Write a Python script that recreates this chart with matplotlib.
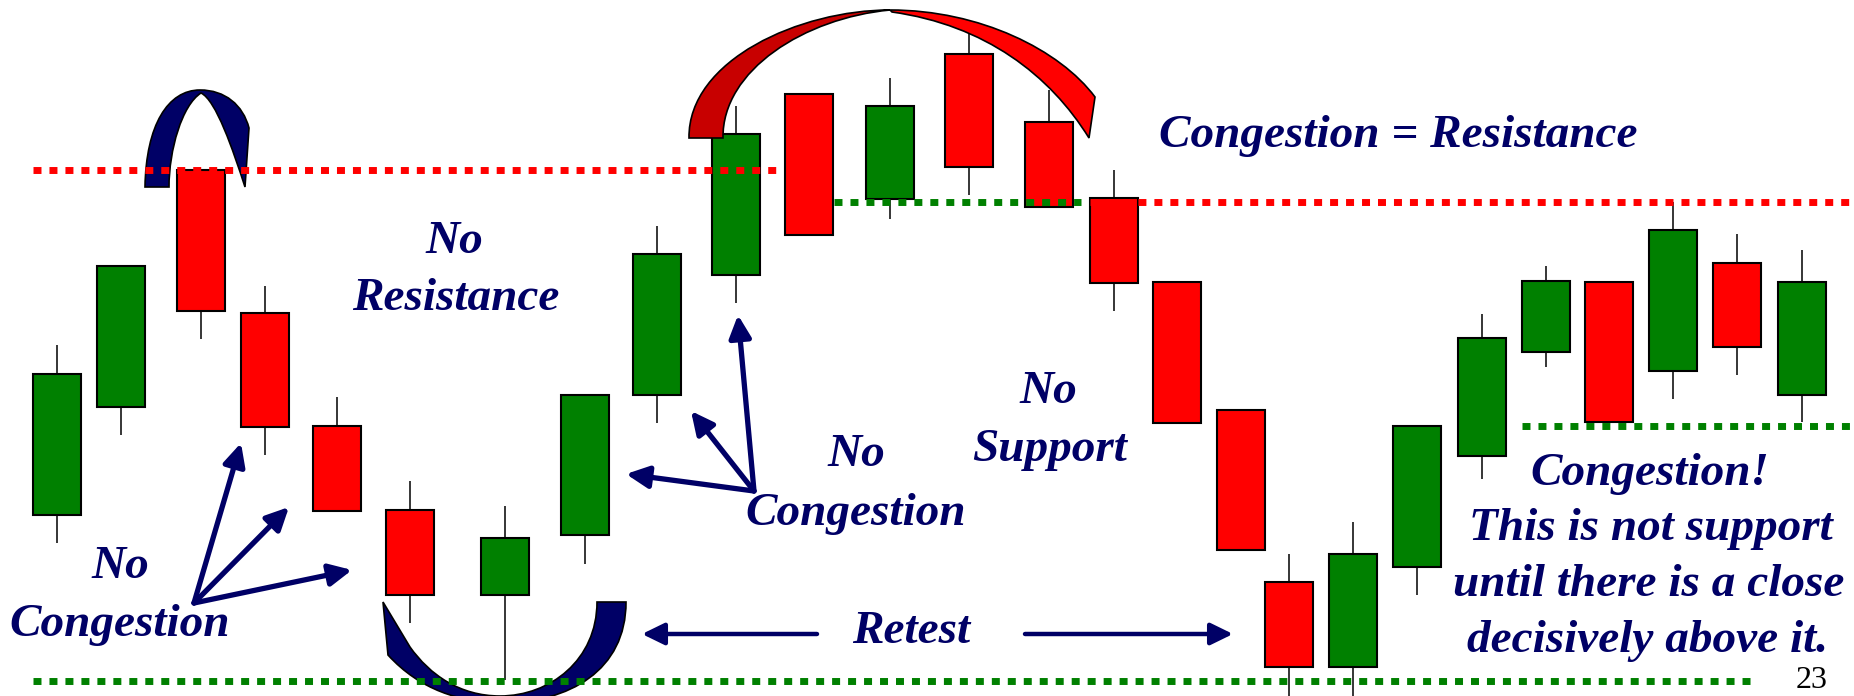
import matplotlib
matplotlib.use("Agg")
import matplotlib.pyplot as plt
from matplotlib.path import Path
from matplotlib.patches import PathPatch

# canvas size in pixels (price axis runs upward from 0 to H)
W, H = 1854, 696

# candle data: x position, open, high, low, close
cx = [57, 121, 201, 265, 337, 410, 505, 585, 657, 736, 809, 890, 969,
      1049, 1114, 1177, 1241, 1289, 1353, 1417, 1482, 1546, 1609, 1673,
      1737, 1802]
opens = [181, 289, 526, 383, 270, 186, 101, 161, 301, 421, 602, 497, 642,
         574, 498, 414, 286, 114, 29, 129, 240, 344, 414, 325, 433, 301]
highs = [351, 430, 526, 410, 299, 215, 190, 301, 470, 590, 602, 618, 675,
         606, 526, 414, 286, 142, 174, 270, 382, 430, 414, 494, 462, 446]
lows = [153, 261, 357, 241, 185, 73, 16, 132, 273, 393, 461, 477, 501,
        489, 385, 273, 146, -9, -9, 101, 217, 329, 274, 297, 321, 274]
closes = [322, 430, 385, 269, 185, 101, 158, 301, 442, 562, 461, 590, 529,
          489, 413, 273, 146, 29, 142, 270, 358, 415, 274, 466, 349, 414]

# support / resistance levels: (price, x start, x end, colour)
levels = [(526, 33, 777, "#ff0000"),
          (494, 834, 1081, "#008000"),
          (494, 1090, 1852, "#ff0000"),
          (270, 1522, 1852, "#008000"),
          (15, 33, 1752, "#008000")]

navy = "#000066"
body_w = 48.5

fig = plt.figure(figsize=(W / 100, H / 100), dpi=100)
ax = fig.add_axes([0, 0, 1, 1])
ax.set_xlim(0, W)
ax.set_ylim(0, H)
ax.axis("off")

# candles
for x, o, hi, lo, c in zip(cx, opens, highs, lows, closes):
    col = "#008000" if c > o else "#ff0000"
    ax.vlines(x, lo, hi, color="black", lw=1.1, zorder=1.5)
    ax.bar(x, abs(c - o), bottom=min(o, c), width=body_w, color=col,
           edgecolor="black", linewidth=1.5, zorder=2)


# arches, drawn as bezier ribbons (pixel y measured from the top)
def ribbon(points, codes, color):
    verts = [(x, H - y) for x, y in points]
    ax.add_patch(PathPatch(Path(verts, codes), facecolor=color,
                           edgecolor="black", lw=1.2, zorder=3))


M, L, C4, CL = Path.MOVETO, Path.LINETO, Path.CURVE4, Path.CLOSEPOLY

ribbon([(145, 187), (146, 125), (168, 90), (200, 90), (225, 90), (243, 105),
        (249, 128), (245, 187), (233, 150), (216, 100), (201, 93),
        (182, 105), (169, 150), (169, 187), (145, 187)],
       [M, C4, C4, C4, C4, C4, C4, L, C4, C4, C4, C4, C4, C4, CL], navy)

ribbon([(689, 138), (688, 60), (800, 10), (890, 10), (805, 18), (722, 70),
        (723, 138), (689, 138)],
       [M, C4, C4, C4, C4, C4, C4, CL], "#c80000")

ribbon([(890, 10), (980, 10), (1060, 50), (1095, 97), (1089, 138),
        (1050, 75), (985, 25), (892, 12), (890, 10)],
       [M, C4, C4, C4, L, C4, C4, C4, CL], "#ff0000")

ribbon([(383, 602), (388, 655), (420, 690), (460, 702), (500, 703),
        (570, 703), (626, 670), (626, 602), (597, 602), (597, 660),
        (550, 696), (500, 696), (460, 696), (430, 675), (410, 647),
        (383, 602), (383, 602)],
       [M, L, C4, C4, C4, C4, C4, C4, L, C4, C4, C4, C4, C4, C4, L, CL], navy)

# dotted levels
for y, x0, x1, col in levels:
    ax.plot([x0, x1], [y, y], color=col, lw=5, linestyle=(0, (1.15, 1.15)),
            dash_capstyle="butt", zorder=4)

# arrows
head = "-|>,head_length=0.45,head_width=0.22"
arrows = [((194, 93), (241, 253)), ((194, 93), (289, 189)),
          ((194, 93), (352, 126)),
          ((754, 205), (626, 222)), ((754, 205), (691, 285)),
          ((754, 205), (738, 381))]
for start, tip in arrows:
    ax.annotate("", xy=tip, xytext=start,
                arrowprops=dict(arrowstyle=head, color=navy, lw=3.8,
                                mutation_scale=30, shrinkA=0, shrinkB=0),
                zorder=5)
for start, tip in [((817, 62), (642, 62)), ((1025, 62), (1233, 62))]:
    ax.annotate("", xy=tip, xytext=start,
                arrowprops=dict(arrowstyle=head, color=navy, lw=3.2,
                                mutation_scale=30, shrinkA=0, shrinkB=0),
                zorder=5)

# labels
font = dict(family="Liberation Serif", weight="bold", style="italic",
            color=navy, fontsize=34, ha="center", va="baseline", zorder=6)
labels = [("No", 454, 443), ("Resistance", 456, 386),
          ("No", 120, 118), ("Congestion", 120, 60),
          ("No", 856, 230), ("Congestion", 856, 171),
          ("No", 1048, 293), ("Support", 1050, 235),
          ("Retest", 911, 53),
          ("Congestion = Resistance", 1398, 549),
          ("Congestion!", 1650, 211), ("This is not support", 1651, 156),
          ("until there is a close", 1649, 100),
          ("decisively above it.", 1648, 44)]
for s, x, y in labels:
    ax.text(x, y, s, **font)

ax.text(1812, 8, "23", family="Liberation Serif", fontsize=23,
        color="black", ha="center", va="baseline", zorder=6)

fig.savefig("out.png", dpi=100, facecolor="white")
